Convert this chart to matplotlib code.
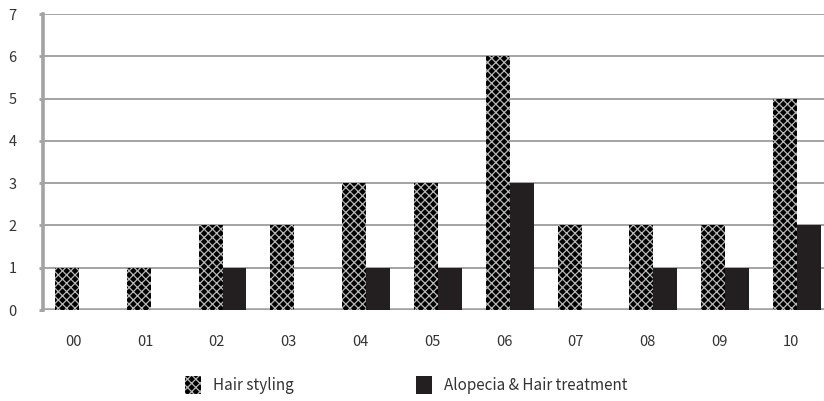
import matplotlib
matplotlib.use('Agg')
import matplotlib.pyplot as plt
import numpy as np

plt.rcParams['font.family'] = ['Noto Sans CJK KR', 'DejaVu Sans']
plt.rcParams['hatch.linewidth'] = 0.9

# yearly counts per category
years = ['00', '01', '02', '03', '04', '05', '06', '07', '08', '09', '10']
hair_styling = [1, 1, 2, 2, 3, 3, 6, 2, 2, 2, 5]
alopecia = [0, 0, 1, 0, 1, 1, 3, 0, 1, 1, 2]

grid_c = '#a3a3a3'
text_c = '#333333'

fig = plt.figure(figsize=(8.24, 4.01), dpi=100)
ax = fig.add_axes([43/824, 91/401, 781/824, 296/401])

x = np.arange(len(years))
w = 0.334
ax.bar(x - w/2, hair_styling, w, color='black', edgecolor='#b8b8b8', linewidth=0,
       hatch='xxxx', label='Hair styling', zorder=3)
ax.bar(x + w/2, alopecia, w, color='#231f20', linewidth=0,
       label='Alopecia & Hair treatment', zorder=3)

ax.set_xlim(-0.5, 10.377)
ax.set_ylim(0, 7)
ax.set_yticks(range(0, 8))
ax.set_xticks(x - 0.08)
ax.set_xticklabels(years)

for v in range(1, 8):
    ax.axhline(v, color=grid_c, lw=1.4, zorder=1)
ax.axhline(0, color=grid_c, lw=2.6, zorder=2)

for s in ['top', 'right', 'bottom']:
    ax.spines[s].set_visible(False)
ax.spines['left'].set_color(grid_c)
ax.spines['left'].set_linewidth(2.6)

ax.tick_params(axis='y', length=3, width=2, color=grid_c, labelsize=10.5,
               labelcolor=text_c, pad=19)
ax.tick_params(axis='x', length=0, labelsize=10.5, labelcolor=text_c, pad=18)
for lab in ax.get_yticklabels():
    lab.set_horizontalalignment('center')

fig.legend(loc='center', bbox_to_anchor=(406/824, 1 - 385/401), ncol=2,
           frameon=False, fontsize=11, handlelength=1.05, handleheight=1.4,
           handletextpad=0.8, columnspacing=8.0, labelcolor=text_c)

fig.savefig('out.png', dpi=100)
